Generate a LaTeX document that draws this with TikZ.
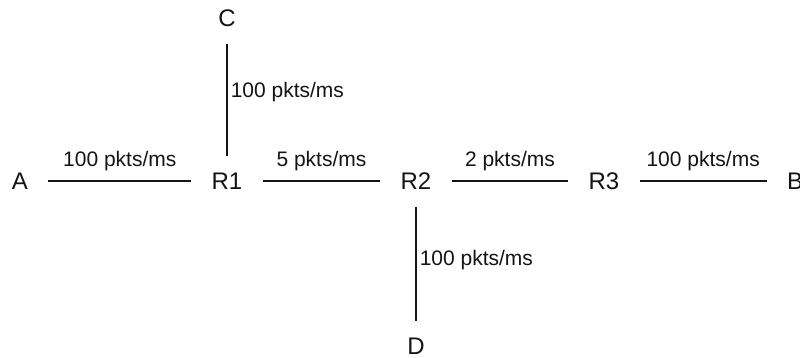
\documentclass[tikz,border=0pt]{standalone}
\usepackage{fontspec}
\setmainfont{Liberation Sans}
\usetikzlibrary{positioning}
\definecolor{netink}{RGB}{20,20,20}

\begin{document}
\begin{tikzpicture}[x=1pt,y=-1pt,
    router/.style={inner xsep=20pt,inner ysep=17pt,font=\fontsize{24}{26}\selectfont,text=netink},
    rate/.style={font=\fontsize{21}{23}\selectfont,text=netink,inner sep=2pt},
    link/.style={line width=1.5pt,draw=netink}]
    \useasboundingbox (0,0) rectangle (800,358);
    \node[router] (A) at (20,181) {A};
    \node[router] (R1) at (227,181) {R1};
    \node[router] (R2) at (416,181) {R2};
    \node[router] (R3) at (604,181) {R3};
    \node[router] (B) at (795,181) {B};
    \node[router] (C) at (227,18) {C};
    \node[router] (D) at (416,346) {D};
    \draw[link] (A) -- (R1) node[rate,midway,above=7pt]{100 pkts/ms};
    \draw[link] (R1) -- (R2) node[rate,midway,above=7pt]{5 pkts/ms};
    \draw[link] (R2) -- (R3) node[rate,midway,above=7pt]{2 pkts/ms};
    \draw[link] (R3) -- (B) node[rate,midway,above=7pt]{100 pkts/ms};
    \draw[link] (C) -- (R1) node[rate,pos=.43,right=1pt]{100 pkts/ms};
    \draw[link] (R2) -- (D) node[rate,pos=.47,right=1pt]{100 pkts/ms};
  \end{tikzpicture}
\end{document}
